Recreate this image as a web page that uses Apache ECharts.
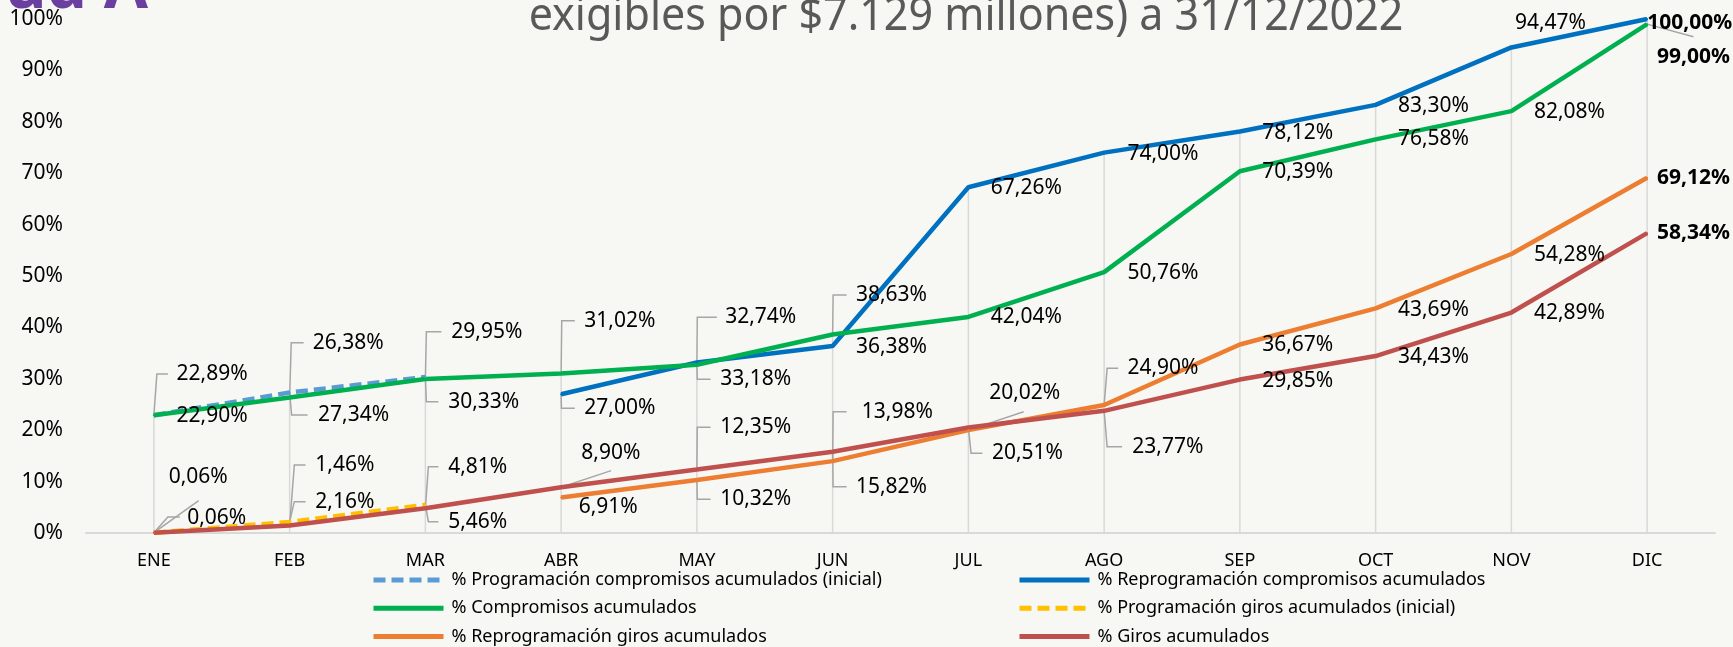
<!DOCTYPE html>
<html>
<head>
<meta charset="utf-8">
<style>
  html, body { margin: 0; padding: 0; background: #F7F8F3; }
  #chart { width: 1733px; height: 647px; }
</style>
<script src="https://cdn.jsdelivr.net/npm/echarts@6/dist/echarts.min.js"></script>
</head>
<body>
<div id="chart"></div>
<script>
// meses
const meses = ['ENE', 'FEB', 'MAR', 'ABR', 'MAY', 'JUN', 'JUL', 'AGO', 'SEP', 'OCT', 'NOV', 'DIC'];

// valores (%)
const progCompromisosInicial = [22.90, 27.34, 30.33, null, null, null, null, null, null, null, null, null];
const reprogCompromisos = [null, null, null, 27.00, 33.18, 36.38, 67.26, 74.00, 78.12, 83.30, 94.47, 100.00];
const compromisos = [22.89, 26.38, 29.95, 31.02, 32.74, 38.63, 42.04, 50.76, 70.39, 76.58, 82.08, 99.00];
const progGirosInicial = [0.06, 2.16, 5.46, null, null, null, null, null, null, null, null, null];
const reprogGiros = [null, null, null, 6.91, 10.32, 13.98, 20.02, 24.90, 36.67, 43.69, 54.28, 69.12];
const giros = [0.06, 1.46, 4.81, 8.90, 12.35, 15.82, 20.51, 23.77, 29.85, 34.43, 42.89, 58.34];

// posicion de etiquetas: [inicio del texto respecto al punto, desplazamiento vertical] en px
const posProgComp = [[22.6, 0.7], [28.4, 22.5], [22.8, 24.6]];
const posReprogComp = [null, null, null, [23.2, 14.1], [23.3, 16.8], [23.3, 0.7], [22.4, 1], [23.3, 1.4], [22.3, 1.2], [22.3, 1.2], [3.5, -24.7], [0, 3.7]];
const posComp = [[22.6, -41.3], [23, -54.7], [25.9, -47.4], [23.2, -52.9], [28.3, -47.4], [23.3, -39.4], [22.4, 0.4], [23.3, 1.2], [22.3, 0.5], [22.3, 0], [22.5, 0.6], [9.8, 32.6]];
const posProgGiros = [[14.8, -55.7], [25.7, -20.2], [22.8, 16.8]];
const posReprogGiros = [null, null, null, [17.5, 9.2], [23.3, 19.3], [29.2, -49.4], [20.8, -36.8], [23.3, -36.7], [22.3, 0.5], [22.3, 1.6], [22.5, 1], [9.8, 0.6]];
const posGiros = [[33.3, -14.4], [25.7, -60.5], [22.8, -41.6], [20.2, -34], [23.3, -42.2], [23.3, 35], [23.5, 25.7], [28.1, 35.9], [22.3, 1.1], [22.3, 1.3], [22.5, 0.8], [9.8, 0.2]];

const seriesDefs = [
  { name: '% Programación compromisos acumulados (inicial)', data: progCompromisosInicial, pos: posProgComp, color: '#5B9BD5', dashed: true },
  { name: '% Reprogramación compromisos acumulados', data: reprogCompromisos, pos: posReprogComp, color: '#0070C0' },
  { name: '% Compromisos acumulados', data: compromisos, pos: posComp, color: '#00B050' },
  { name: '% Programación giros acumulados (inicial)', data: progGirosInicial, pos: posProgGiros, color: '#FFC000', dashed: true },
  { name: '% Reprogramación giros acumulados', data: reprogGiros, pos: posReprogGiros, color: '#ED7D31' },
  { name: '% Giros acumulados', data: giros, pos: posGiros, color: '#C0504D' }
];

// lineas guia de etiquetas (serie, mes, puntos relativos al punto)
const guias = [
  { s: 2, i: 0, pts: [[3, -41.3], [14, -41.3]] },
  { s: 3, i: 0, pts: [[44.8, -32]] },
  { s: 5, i: 0, pts: [[14, -15.7], [26, -15.7]] },
  { s: 2, i: 1, pts: [[1.6, -54.7], [14, -54.7]] },
  { s: 0, i: 1, pts: [[2, 22.5], [18, 22.5]] },
  { s: 5, i: 1, pts: [[4.7, -60.5], [16, -60.5]] },
  { s: 3, i: 1, pts: [[4.7, -20.2], [16, -20.2]] },
  { s: 2, i: 2, pts: [[1, -47.4], [16, -47.4]] },
  { s: 0, i: 2, pts: [[1, 24.6], [13, 24.6]] },
  { s: 5, i: 2, pts: [[3, -41.6], [13, -41.6]] },
  { s: 3, i: 2, pts: [[3, 16.8], [13, 16.8]] },
  { s: 2, i: 3, pts: [[0.6, -52.9], [13.7, -52.9]] },
  { s: 1, i: 3, pts: [[0.3, 14.1], [13.7, 14.1]] },
  { s: 5, i: 3, pts: [[50, -16.6]] },
  { s: 2, i: 4, pts: [[0.4, -47.4], [20, -47.4]] },
  { s: 1, i: 4, pts: [[0.4, 16.8], [13.7, 16.8]] },
  { s: 5, i: 4, pts: [[0.4, -42.2], [13.7, -42.2]] },
  { s: 4, i: 4, pts: [[0.4, 19.3], [13.7, 19.3]] },
  { s: 2, i: 5, pts: [[0.5, -39.4], [14, -39.4]] },
  { s: 4, i: 5, pts: [[0.5, -49.4], [14, -49.4]] },
  { s: 5, i: 5, pts: [[0.5, 35], [14, 35]] },
  { s: 4, i: 6, pts: [[55.3, -18.4]] },
  { s: 5, i: 6, pts: [[2.7, 25.7], [14, 25.7]] },
  { s: 4, i: 7, pts: [[3, -36.7], [14, -36.7]] },
  { s: 5, i: 7, pts: [[3, 35.9], [18, 35.9]] },
  { s: 2, i: 11, pts: [[46.3, 12.6]] }
];

function fmt(v) {
  return v.toFixed(2).replace('.', ',') + '%';
}

function maxAt(i) {
  return Math.max(...seriesDefs.map(d => d.data[i]).filter(v => v != null));
}

const chart = echarts.init(document.getElementById('chart'));

const lineSeries = seriesDefs.map(d => ({
  type: 'line',
  name: d.name,
  z: 3,
  symbol: 'circle',
  symbolSize: 2,
  showSymbol: true,
  data: d.data.map((v, i) => v == null ? '-' : {
    value: v,
    label: {
      offset: [d.pos[i][0] - 1, d.pos[i][1]],
      fontWeight: i === 11 ? 'bold' : 'normal'
    }
  }),
  lineStyle: { color: d.color, width: 4.5, type: d.dashed ? [12, 6] : 'solid' },
  itemStyle: { color: d.color },
  label: {
    show: true,
    position: 'right',
    distance: 0,
    align: 'left',
    verticalAlign: 'middle',
    fontSize: 21,
    fontFamily: 'Noto Sans',
    color: '#000',
    formatter: p => fmt(p.value)
  },
  emphasis: { disabled: true },
  animation: false
}));

const option = {
  backgroundColor: '#F7F8F3',
  animation: false,
  grid: { left: 86, right: 18, top: 19, bottom: 114, outerBoundsMode: 'none' },
  graphic: [
    {
      type: 'text', x: 148, y: -10, z: 10,
      style: { text: 'ud A', font: 'bold 64px "Noto Sans"', fill: '#6B3FA0',
        align: 'right', textAlign: 'right', verticalAlign: 'middle', textVerticalAlign: 'middle' }
    },
    {
      type: 'text', x: 966, y: 17, scaleX: 0.935, z: 10,
      style: { text: 'exigibles por $7.129 millones) a 31/12/2022', font: '46px "Noto Sans"', fill: '#595959',
        align: 'center', textAlign: 'center', verticalAlign: 'middle', textVerticalAlign: 'middle' }
    }
  ],
  legend: [
    {
      left: 371, top: 570, orient: 'vertical', padding: 0, itemGap: 8.3,
      itemWidth: 70, itemHeight: 14, selectedMode: false,
      data: [seriesDefs[0].name, seriesDefs[2].name, seriesDefs[4].name],
      itemStyle: { opacity: 0 },
      lineStyle: { width: 5 },
      textStyle: { fontSize: 18, fontFamily: 'Noto Sans', color: '#000', lineHeight: 20, padding: [0, 0, 0, 3] }
    },
    {
      left: 1017, top: 570, orient: 'vertical', padding: 0, itemGap: 8.3,
      itemWidth: 70, itemHeight: 14, selectedMode: false,
      data: [seriesDefs[1].name, seriesDefs[3].name, seriesDefs[5].name],
      itemStyle: { opacity: 0 },
      lineStyle: { width: 5 },
      textStyle: { fontSize: 18, fontFamily: 'Noto Sans', color: '#000', lineHeight: 20, padding: [0, 0, 0, 3] }
    }
  ],
  xAxis: {
    type: 'category',
    data: meses,
    boundaryGap: true,
    axisLine: { lineStyle: { color: '#D9D9D9', width: 2 } },
    axisTick: { show: false },
    splitLine: { show: false },
    axisLabel: { interval: 0, fontSize: 18, fontFamily: 'Noto Sans', color: '#000', margin: 19 }
  },
  yAxis: {
    type: 'value',
    min: 0,
    max: 100,
    interval: 10,
    axisLine: { show: false },
    axisTick: { show: false },
    splitLine: { show: false },
    axisLabel: { formatter: '{value}%', fontSize: 21, fontFamily: 'Noto Sans', color: '#000', margin: 23 }
  },
  series: [
    {
      type: 'custom',
      z: 1,
      silent: true,
      data: meses.map((m, i) => [i, maxAt(i)]),
      renderItem: (params, api) => {
        const a = api.coord([api.value(0), 0]);
        const b = api.coord([api.value(0), api.value(1)]);
        return {
          type: 'line',
          shape: { x1: a[0], y1: a[1], x2: b[0], y2: b[1] },
          style: { stroke: '#D9D9D9', lineWidth: 1.5 }
        };
      }
    },
    {
      type: 'custom',
      z: 2,
      silent: true,
      data: guias.map((g, k) => [g.i, seriesDefs[g.s].data[g.i], k]),
      renderItem: (params, api) => {
        const g = guias[api.value(2)];
        const p = api.coord([api.value(0), api.value(1)]);
        const points = [p].concat(g.pts.map(d => [p[0] + d[0], p[1] + d[1]]));
        return {
          type: 'polyline',
          shape: { points: points },
          style: { stroke: '#A6A6A6', lineWidth: 1.5, fill: null }
        };
      }
    }
  ].concat(lineSeries)
};

chart.setOption(option);
</script>
</body>
</html>
